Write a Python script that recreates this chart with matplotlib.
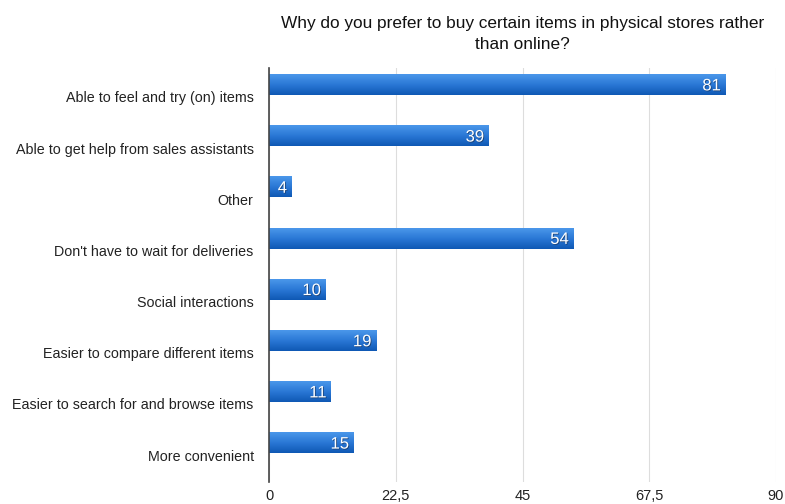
import numpy as np
import matplotlib.pyplot as plt
import matplotlib.transforms as mtrans
from matplotlib.colors import LinearSegmentedColormap
import matplotlib.patheffects as pe

plt.rcParams['font.family'] = ['Liberation Sans', 'DejaVu Sans']

categories = [
    'Able to feel and try (on) items',
    'Able to get help from sales assistants',
    'Other',
    "Don't have to wait for deliveries",
    'Social interactions',
    'Easier to compare different items',
    'Easier to search for and browse items',
    'More convenient',
]
values = [81, 39, 4, 54, 10, 19, 11, 15]
ticks = [0, 22.5, 45, 67.5, 90]
tick_labels = ['0', '22,5', '45', '67,5', '90']

fig = plt.figure(figsize=(7.85, 5.04), dpi=100)
ax = fig.add_axes([0.3427, 0.0437, 0.6459, 0.8214])

# vertical blue gradient for the bars
grad = LinearSegmentedColormap.from_list('bar', ['#4b97ea', '#2a78d6', '#0f58b4'])
gimg = np.linspace(0, 1, 64).reshape(-1, 1)

h = 0.4
for i, v in enumerate(values):
    ax.imshow(gimg, cmap=grad, aspect='auto', interpolation='bilinear',
              extent=(0, v, i + h / 2, i - h / 2), zorder=3)
    ax.text(v - 0.8, i + 0.02, str(v), ha='right', va='center', color='white',
            fontsize=12, zorder=4,
            path_effects=[pe.withSimplePatchShadow(offset=(0.6, -0.6),
                                                   shadow_rgbFace='#1a3a66', alpha=0.8)])

ax.set_xlim(0, 90)
ax.set_ylim(7.76, -0.33)
ax.set_yticks(range(len(categories)))
ax.set_yticklabels(categories, fontsize=10.3, color='#222222')
ax.set_xticks(ticks)
ax.set_xticklabels(tick_labels, fontsize=10.5, color='#222222')
ax.tick_params(axis='x', length=0, pad=5)
ax.tick_params(axis='y', length=0, pad=11)

# category names sit a little below their bars
shift = mtrans.ScaledTranslation(0, -12 / 100, fig.dpi_scale_trans)
for lab in ax.get_yticklabels():
    lab.set_transform(lab.get_transform() + shift)

ax.grid(axis='x', color='#dddddd', linewidth=0.8, zorder=0)
for side in ['top', 'right', 'bottom']:
    ax.spines[side].set_visible(False)
ax.spines['left'].set_color('#444444')
ax.spines['left'].set_linewidth(1.2)
ax.spines['left'].set_zorder(5)

fig.text(0.6656, 0.932, 'Why do you prefer to buy certain items in physical stores rather\nthan online?',
         ha='center', va='center', fontsize=12.4, color='#111111', linespacing=1.5)

fig.savefig('out.png', dpi=100)
